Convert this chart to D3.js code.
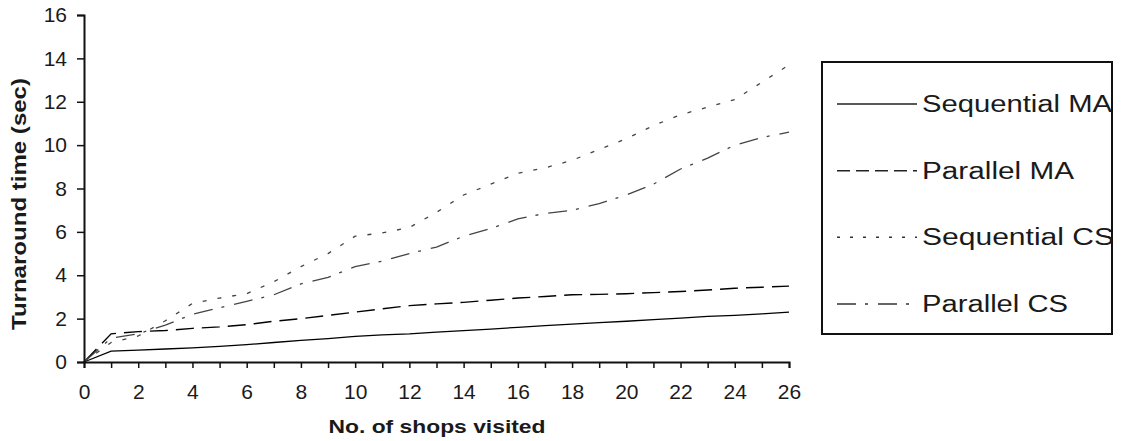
<!DOCTYPE html>
<html><head><meta charset="utf-8">
<script src="https://cdn.jsdelivr.net/npm/d3@7"></script>
<style>
html,body{margin:0;padding:0;background:#fff;}
svg{display:block;}
text{font-family:"Liberation Sans",Arial,sans-serif;fill:#1a1a1a;}
</style></head>
<body>
<svg id="chart" width="1130" height="441"></svg>
<script>
const shops = d3.range(0, 27);
const sequentialMA = [0,0.5,0.55,0.6,0.65,0.72,0.8,0.9,1.0,1.08,1.18,1.25,1.3,1.38,1.45,1.52,1.6,1.68,1.75,1.82,1.88,1.95,2.02,2.1,2.15,2.22,2.3];
const parallelMA = [0,1.3,1.4,1.45,1.55,1.62,1.72,1.88,2.0,2.15,2.3,2.45,2.6,2.68,2.75,2.85,2.95,3.02,3.1,3.12,3.15,3.2,3.25,3.32,3.4,3.45,3.5];
const sequentialCS = [0,0.9,1.2,1.9,2.7,2.95,3.15,3.7,4.4,5.0,5.8,5.95,6.2,6.9,7.7,8.2,8.7,8.95,9.3,9.8,10.3,10.9,11.4,11.75,12.1,12.9,13.7];
const parallelCS = [0,1.1,1.3,1.7,2.2,2.5,2.8,3.1,3.6,3.9,4.4,4.65,5.0,5.3,5.8,6.15,6.6,6.85,7.0,7.3,7.7,8.2,8.9,9.4,10.0,10.35,10.6];
const seriesNames = ["Sequential MA","Parallel MA","Sequential CS","Parallel CS"];
const yTicks = [0,2,4,6,8,10,12,14,16];
const xTickLabels = [0,2,4,6,8,10,12,14,16,18,20,22,24,26];

const svg = d3.select("#chart");
const x = d3.scaleLinear().domain([0,26]).range([84,789]);
const y = d3.scaleLinear().domain([0,16]).range([362,15]);

const styles = [
  {values: sequentialMA, color:"#000", width:1.3, dash:null, legendDash:null},
  {values: parallelMA, color:"#000", width:1.4, dash:"18,8", legendDash:"13,6"},
  {values: sequentialCS, color:"#444", width:1.3, dash:"4,11", legendDash:"3,10"},
  {values: parallelCS, color:"#444", width:1.3, dash:"19,9,3,10", legendDash:"19,9,3,10"}
];

const line = d3.line().x((d,i)=>x(shops[i])).y(d=>y(d));
styles.forEach(s=>{
  svg.append("path").attr("d", line(s.values)).attr("fill","none")
    .attr("stroke", s.color).attr("stroke-width", s.width)
    .attr("stroke-dasharray", s.dash);
});

// Y axis
const yAxis = svg.append("g").attr("transform","translate(84,0)")
  .call(d3.axisLeft(y).tickValues(yTicks).tickSize(7).tickPadding(10).tickFormat(d3.format("d")));
// X axis
const xAxis = svg.append("g").attr("transform","translate(0,362)")
  .call(d3.axisBottom(x).tickValues(shops).tickSize(6).tickPadding(16)
    .tickFormat(d => xTickLabels.includes(d) ? d : ""));
[yAxis,xAxis].forEach(a=>{
  a.select(".domain").attr("stroke","#111").attr("stroke-width",2);
  a.selectAll(".tick line").attr("stroke","#111").attr("stroke-width",1.5);
  a.selectAll(".tick text").style("font-size","21px").attr("fill","#222");
});

// Axis titles
svg.append("text").attr("transform","translate(26,204) rotate(-90)")
  .attr("text-anchor","middle").style("font-size","20px").style("font-weight","bold")
  .attr("textLength",252).attr("lengthAdjust","spacingAndGlyphs")
  .text("Turnaround time (sec)");
svg.append("text").attr("x",437).attr("y",433)
  .attr("text-anchor","middle").style("font-size","19px").style("font-weight","bold")
  .attr("textLength",217).attr("lengthAdjust","spacingAndGlyphs")
  .text("No. of shops visited");

// Legend
const lg = svg.append("g");
lg.append("rect").attr("x",822).attr("y",62).attr("width",290).attr("height",272)
  .attr("fill","#fff").attr("stroke","#111").attr("stroke-width",2);
const legendWidths = [190,152,192,146];
const ly = d3.scalePoint().domain(seriesNames).range([104,304]);
seriesNames.forEach((n,i)=>{
  const s = styles[i];
  lg.append("line").attr("x1",837).attr("x2",917).attr("y1",ly(n)).attr("y2",ly(n))
    .attr("stroke", i<2 ? "#222" : "#333").attr("stroke-width",1.5)
    .attr("stroke-dasharray", s.legendDash);
  lg.append("text").attr("x",922).attr("y",ly(n)+8).style("font-size","23px")
    .attr("textLength",legendWidths[i]).attr("lengthAdjust","spacingAndGlyphs")
    .text(n);
});
</script>
</body></html>
